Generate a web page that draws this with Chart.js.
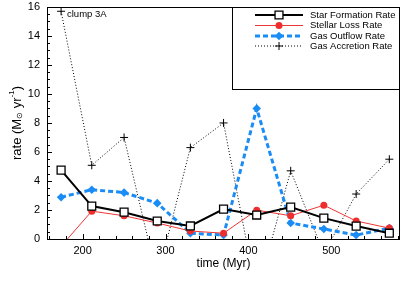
<!DOCTYPE html>
<html>
<head>
<meta charset="utf-8">
<script src="https://cdn.jsdelivr.net/npm/chart.js@4/dist/chart.umd.min.js"></script>
<style>
  html, body { margin: 0; padding: 0; background: #fff; }
  #wrap { width: 407px; height: 287px; }
</style>
</head>
<body>
<div id="wrap"><canvas id="chart" width="407" height="287"></canvas></div>
<script>
// values (time in Myr, rates in Msun/yr)
const timeMyr = [174, 211, 250, 290, 330, 370, 410, 451, 491, 530, 570];
const starFormation = [4.75, 2.27, 1.85, 1.24, 0.9, 2.06, 1.65, 2.2, 1.44, 0.89, 0.4];
const stellarLoss = [-0.5, 1.92, 1.6, 1.1, 0.55, 0.4, 1.99, 1.6, 2.33, 1.24, 0.75];
const gasOutflow = [2.88, 3.4, 3.2, 2.47, 0.4, 0.27, 9.0, 1.1, 0.69, 0.27, 0.75];
const gasAccretion = [15.7, 5.08, 7.0, -2.7, 6.3, 8.0, -3.8, 4.7, -1.0, 3.1, 5.5];

const xTicks = [200, 300, 400, 500];
const yTicks = [0, 2, 4, 6, 8, 10, 12, 14, 16];

const FONT = '"Liberation Sans", Arial, Helvetica, sans-serif';

function pts(values) {
  return values.map((v, i) => ({ x: timeMyr[i], y: v }));
}

// inward tick marks, frame and axis titles
const axesPlugin = {
  id: 'axesPlugin',
  afterDraw(chart) {
    const ctx = chart.ctx;
    const a = chart.chartArea;
    const xs = chart.scales.x;
    const ys = chart.scales.y;
    ctx.save();
    ctx.strokeStyle = '#000';
    ctx.lineWidth = 1;
    ctx.beginPath();
    for (let v = 160; v <= xs.max; v += 20) {
      const px = Math.round(xs.getPixelForValue(v)) + 0.5;
      const len = v % 100 === 0 ? 5 : 3;
      ctx.moveTo(px, a.bottom);
      ctx.lineTo(px, a.bottom - len);
    }
    for (let v = 0; v <= ys.max; v += 0.5) {
      const py = Math.round(ys.getPixelForValue(v)) + 0.5;
      const len = v % 2 === 0 ? 5 : 3;
      ctx.moveTo(a.left, py);
      ctx.lineTo(a.left + len, py);
    }
    ctx.stroke();
    ctx.strokeRect(Math.round(a.left) + 0.5, Math.round(a.top) + 0.5,
      Math.round(a.right - a.left) - 1, Math.round(a.bottom - a.top));

    // x title
    ctx.fillStyle = '#000';
    ctx.font = '12px ' + FONT;
    ctx.textAlign = 'center';
    ctx.textBaseline = 'middle';
    ctx.fillText('time (Myr)', (a.left + a.right) / 2, 264);

    // y title with subscript and superscript
    const big = '13px ' + FONT;
    const small = '8px ' + FONT;
    const parts = [
      { t: 'rate (M', f: big, dy: 0 },
      { t: '\u2299', f: small, dy: 3 },
      { t: ' yr', f: big, dy: 0 },
      { t: '-1', f: small, dy: -5 },
      { t: ')', f: big, dy: 0 }
    ];
    let total = 0;
    parts.forEach(p => { ctx.font = p.f; p.w = ctx.measureText(p.t).width; total += p.w; });
    ctx.translate(17, (a.top + a.bottom) / 2);
    ctx.rotate(-Math.PI / 2);
    ctx.textAlign = 'left';
    let x = -total / 2;
    parts.forEach(p => {
      ctx.font = p.f;
      ctx.fillText(p.t, x, p.dy);
      x += p.w;
    });
    ctx.restore();

    // panel label
    ctx.save();
    ctx.fillStyle = '#000';
    ctx.font = '9.5px ' + FONT;
    ctx.textBaseline = 'middle';
    ctx.fillText('clump 3A', 67, 14);
    ctx.restore();
  }
};

// boxed legend in the upper right corner
const legendPlugin = {
  id: 'legendPlugin',
  afterDraw(chart) {
    const ctx = chart.ctx;
    const a = chart.chartArea;
    const left = 232, top = Math.round(a.top), bottom = 89;
    ctx.save();
    ctx.fillStyle = '#fff';
    ctx.fillRect(left, top, a.right - left, bottom - top);
    ctx.strokeStyle = '#000';
    ctx.lineWidth = 1;
    ctx.strokeRect(left + 0.5, top + 0.5, Math.round(a.right) - left - 1, bottom - top);
    const rows = [15, 25.5, 36, 46];
    chart.data.datasets.forEach((ds, i) => {
      const y = rows[i];
      ctx.save();
      ctx.strokeStyle = ds.borderColor;
      ctx.lineWidth = ds.borderWidth;
      ctx.setLineDash(ds.borderDash || []);
      ctx.beginPath();
      ctx.moveTo(255, y);
      ctx.lineTo(303, y);
      ctx.stroke();
      ctx.setLineDash([]);
      ctx.fillStyle = ds.pointBackgroundColor;
      ctx.strokeStyle = ds.pointBorderColor;
      ctx.lineWidth = ds.pointBorderWidth;
      Chart.helpers.drawPoint(ctx, {
        pointStyle: ds.pointStyle, radius: ds.pointRadius,
        borderWidth: ds.pointBorderWidth, rotation: 0
      }, 279, y);
      ctx.restore();
      ctx.fillStyle = '#000';
      ctx.font = '9.5px ' + FONT;
      ctx.textBaseline = 'middle';
      ctx.fillText(ds.label, 310, y);
    });
    ctx.restore();
  }
};

new Chart(document.getElementById('chart'), {
  type: 'line',
  data: {
    datasets: [
      {
        label: 'Star Formation Rate',
        data: pts(starFormation),
        borderColor: '#000', borderWidth: 2,
        pointStyle: 'rect', pointRadius: 5.6,
        pointBackgroundColor: '#fff', pointBorderColor: '#000', pointBorderWidth: 1.3
      },
      {
        label: 'Stellar Loss Rate',
        data: pts(stellarLoss),
        borderColor: '#f03535', borderWidth: 1,
        pointStyle: 'circle', pointRadius: 3.5,
        pointBackgroundColor: '#ee2e2e', pointBorderColor: '#ee2e2e', pointBorderWidth: 0
      },
      {
        label: 'Gas Outflow Rate',
        data: pts(gasOutflow),
        borderColor: '#1a8cf5', borderWidth: 3, borderDash: [5, 3],
        pointStyle: 'rectRot', pointRadius: 4.3,
        pointBackgroundColor: '#1a8cf5', pointBorderColor: '#1a8cf5', pointBorderWidth: 0
      },
      {
        label: 'Gas Accretion Rate',
        data: pts(gasAccretion),
        borderColor: '#000', borderWidth: 1, borderDash: [1, 2],
        pointStyle: 'cross', pointRadius: 4,
        pointBackgroundColor: '#000', pointBorderColor: '#000', pointBorderWidth: 1
      }
    ]
  },
  options: {
    responsive: false,
    animation: false,
    devicePixelRatio: 1,
    layout: { padding: { top: 5, right: 6, left: 0, bottom: 0 } },
    plugins: { legend: { display: false }, tooltip: { enabled: false } },
    elements: { line: { tension: 0 } },
    scales: {
      x: {
        type: 'linear', min: 157, max: 583,
        grid: { display: false, drawTicks: false }, border: { display: false },
        afterBuildTicks: s => { s.ticks = xTicks.map(v => ({ value: v })); },
        afterFit: s => { s.height = 48; s.paddingLeft = 0; s.paddingRight = 0; },
        ticks: { color: '#000', font: { family: FONT, size: 11 }, padding: 5, maxRotation: 0 }
      },
      y: {
        min: 0, max: 16,
        grid: { display: false, drawTicks: false }, border: { display: false },
        afterBuildTicks: s => { s.ticks = yTicks.map(v => ({ value: v })); },
        afterFit: s => { s.width = 47; s.paddingTop = 0; s.paddingBottom = 0; },
        ticks: { color: '#000', font: { family: FONT, size: 11 }, padding: 7 }
      }
    }
  },
  plugins: [axesPlugin, legendPlugin]
});
</script>
</body>
</html>
